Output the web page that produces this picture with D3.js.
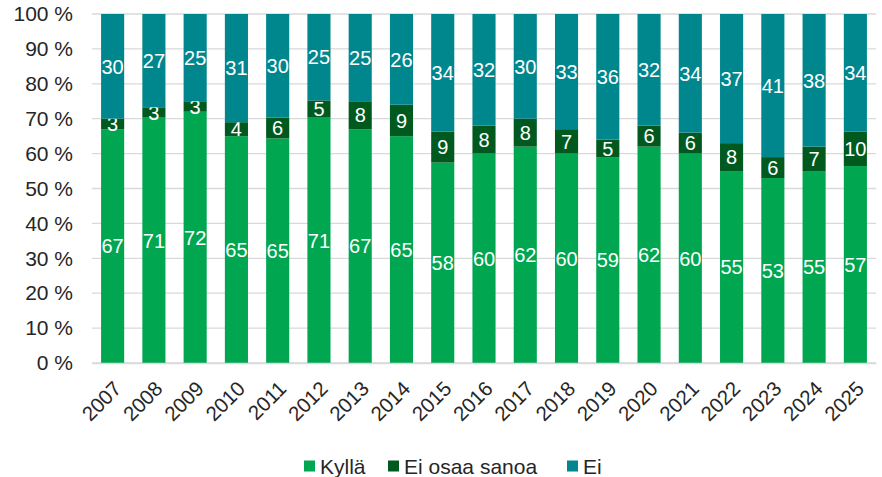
<!DOCTYPE html>
<html>
<head>
<meta charset="utf-8">
<script src="https://cdn.jsdelivr.net/npm/d3@7"></script>
<style>
  body { margin: 0; background: #fff; }
  text { font-family: "Liberation Sans", Arial, sans-serif; }
</style>
</head>
<body>
<div class="chart"></div>
<script>
// data
const years = ['2007','2008','2009','2010','2011','2012','2013','2014','2015','2016','2017','2018','2019','2020','2021','2022','2023','2024','2025'];
const kylla = [67,71,72,65,65,71,67,65,58,60,62,60,59,62,60,55,53,55,57];
const eiOsaa = [3,3,3,4,6,5,8,9,9,8,8,7,5,6,6,8,6,7,10];
const ei = [30,27,25,31,30,25,25,26,34,32,30,33,36,32,34,37,41,38,34];
const seriesNames = ['Kyllä','Ei osaa sanoa','Ei'];
const yTicks = [0,10,20,30,40,50,60,70,80,90,100];

const colors = {'Kyllä':'#00a650','Ei osaa sanoa':'#005a1f','Ei':'#00868d'};

const W = 882, H = 477;
const margin = {top:14, right:6, bottom:114, left:92};
const cw = W - margin.left - margin.right;
const ch = H - margin.top - margin.bottom;

const rows = years.map((y,i) => ({year:y, 'Kyllä':kylla[i], 'Ei osaa sanoa':eiOsaa[i], 'Ei':ei[i]}));
// 100% stacked
const stack = d3.stack().keys(seriesNames).offset(d3.stackOffsetExpand);
const stacked = stack(rows);

const svg = d3.select('.chart').append('svg').attr('width',W).attr('height',H);
const g = svg.append('g').attr('transform',`translate(${margin.left},${margin.top})`);

const x = d3.scaleBand().domain(years).range([0,cw]).paddingInner(0.44).paddingOuter(0.22);
const y = d3.scaleLinear().domain([0,1]).range([ch,0]);

// gridlines
g.append('g').selectAll('line').data(yTicks).join('line')
  .attr('x1',0).attr('x2',cw)
  .attr('y1',d=>y(d/100)).attr('y2',d=>y(d/100))
  .attr('stroke','#d9d9d9').attr('stroke-width',1.3);

// bars
const layers = g.selectAll('.layer').data(stacked).join('g')
  .attr('class','layer').attr('fill',d=>colors[d.key]);
layers.selectAll('rect').data(d=>d).join('rect')
  .attr('x',d=>x(d.data.year))
  .attr('y',d=>y(d[1]))
  .attr('width',x.bandwidth())
  .attr('height',d=>y(d[0])-y(d[1]));

// labels
layers.selectAll('text').data(d=>d.map(v=>({v:v, key:d.key}))).join('text')
  .attr('x',d=>x(d.v.data.year)+x.bandwidth()/2)
  .attr('y',d=>(y(d.v[0])+y(d.v[1]))/2)
  .attr('dy','0.36em')
  .attr('text-anchor','middle')
  .attr('fill','#fff')
  .style('font-size','20px')
  .text(d=>d.v.data[d.key]);

// y axis
const yAxis = d3.axisLeft(y).tickValues(yTicks.map(t=>t/100)).tickFormat(d=>Math.round(d*100)+' %').tickSize(0).tickPadding(19);
const yg = g.append('g').call(yAxis);
yg.select('.domain').remove();
yg.selectAll('text').style('font-size','21px').attr('fill','#262626');

// x axis
const xAxis = d3.axisBottom(x).tickSize(0).tickPadding(0);
const xg = g.append('g').attr('transform',`translate(0,${ch})`).call(xAxis);
xg.select('.domain').attr('stroke','#d9d9d9').attr('stroke-width',1.3);
xg.selectAll('text')
  .style('font-size','20.5px').attr('fill','#262626')
  .attr('text-anchor','end')
  .attr('dy','0')
  .attr('transform','translate(10,27) rotate(-45)');

// legend
const legendItems = [{k:'Kyllä',x:304},{k:'Ei osaa sanoa',x:388},{k:'Ei',x:567}];
const lg = svg.append('g').attr('transform','translate(0,466)');
lg.selectAll('rect').data(legendItems).join('rect')
  .attr('x',d=>d.x).attr('y',-5.5).attr('width',11).attr('height',11)
  .attr('fill',d=>colors[d.k]);
lg.selectAll('text').data(legendItems).join('text')
  .attr('x',d=>d.x+16).attr('y',0).attr('dy','0.36em')
  .style('font-size','21px').attr('fill','#262626')
  .text(d=>d.k);
</script>
</body>
</html>
